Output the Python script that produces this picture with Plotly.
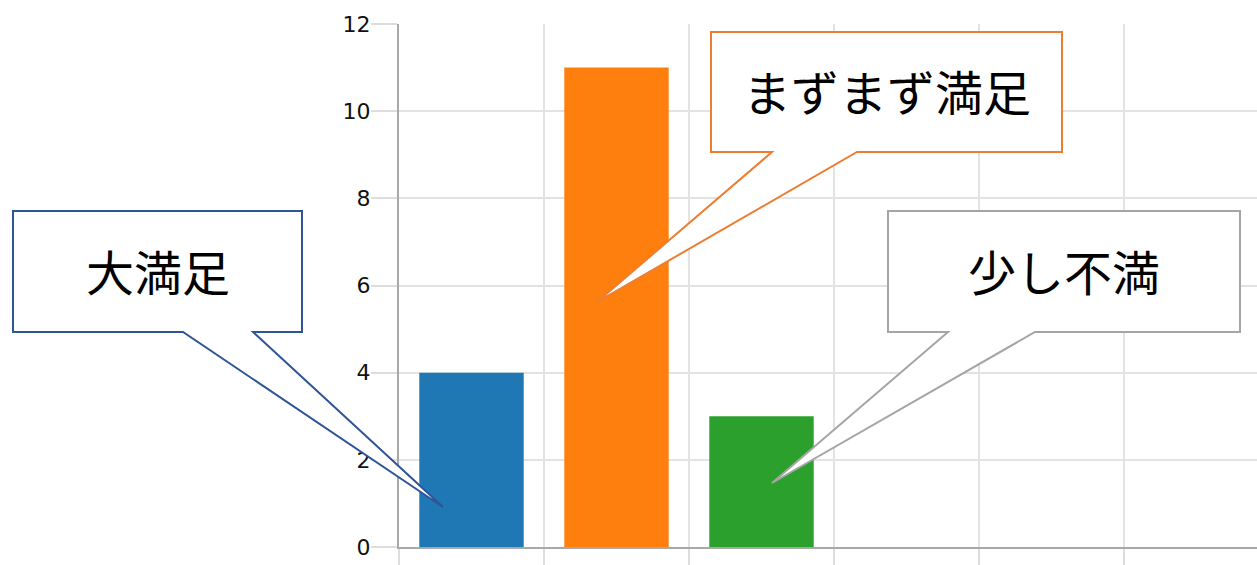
import plotly.graph_objects as go

# ---- data ----
categories = ["大満足", "まずまず満足", "少し不満"]
values = [4, 11, 3]
bar_colors = ["#1f77b4", "#ff7f0e", "#2ca02c"]
y_ticks = [0, 2, 4, 6, 8, 10, 12]

# callout styles: (label, border colour)
callout_labels = ["大満足", "まずまず満足", "少し不満"]
callout_colors = ["#2F5597", "#ED7D31", "#A5A5A5"]

W, H = 1257, 565
L, R, T, B = 399, 0, 24, 18
slot = 145.0
x_pos = list(range(len(values)))
x_range = [-0.5, -0.5 + (W - L - R) / slot]

fig = go.Figure()
fig.add_trace(go.Bar(
    x=x_pos, y=values, width=0.72,
    marker=dict(color=bar_colors, line=dict(width=0)),
    hoverinfo="skip", showlegend=False,
))

pw, ph = W - L - R, H - T - B


def px2paper(px, py):
    return (px - L) / pw, (H - B - py) / ph


# callout geometry in pixel space: box (x0, y0, x1, y1), tail base xs, tip
callouts = [
    ((13, 211, 302, 332), (183, 253), (443, 507)),
    ((711, 32, 1062, 152), (772, 857), (597, 302)),
    ((888, 211, 1240, 332), (948, 1035), (772, 483)),
]

shapes = []
annotations = []
for (box, tail, tip), label, col in zip(callouts, callout_labels, callout_colors):
    x0, y0, x1, y1 = box
    pts = [(x0, y0), (x1, y0), (x1, y1), (tail[1], y1), tip, (tail[0], y1), (x0, y1)]
    pp = [px2paper(*p) for p in pts]
    path = "M " + " L ".join(f"{a:.5f},{b:.5f}" for a, b in pp) + " Z"
    shapes.append(dict(type="path", xref="paper", yref="paper", path=path,
                       fillcolor="white", line=dict(color=col, width=2), layer="above"))
    cx, cy = px2paper((x0 + x1) / 2, (y0 + y1) / 2 - 2)
    annotations.append(dict(xref="paper", yref="paper", x=cx, y=cy, text=label,
                            showarrow=False, xanchor="center", yanchor="middle",
                            font=dict(family="Noto Sans CJK JP", size=48, color="black")))

fig.update_layout(
    width=W, height=H,
    margin=dict(l=L, r=R, t=T, b=B, pad=0, autoexpand=False),
    paper_bgcolor="white", plot_bgcolor="white",
    shapes=shapes, annotations=annotations,
    xaxis=dict(range=x_range, tickmode="array",
               tickvals=[i - 0.5 for i in range(7)], showticklabels=False,
               ticks="outside", ticklen=20, tickwidth=2, tickcolor="#dddddd",
               showgrid=True, gridcolor="#e3e3e3", gridwidth=2,
               showline=True, linecolor="#a8a8a8", linewidth=2,
               zeroline=False, fixedrange=True, automargin=False),
    yaxis=dict(range=[0, 12], tickmode="array", tickvals=y_ticks,
               ticktext=[str(v) for v in y_ticks],
               ticks="outside", ticklen=26, tickwidth=2, tickcolor="#dddddd",
               ticklabelstandoff=-4,
               showgrid=True, gridcolor="#e3e3e3", gridwidth=2,
               showline=True, linecolor="#a8a8a8", linewidth=2,
               zeroline=False, automargin=False,
               tickfont=dict(family="DejaVu Sans", size=22, color="#111111")),
)

fig.write_html("out.html")
